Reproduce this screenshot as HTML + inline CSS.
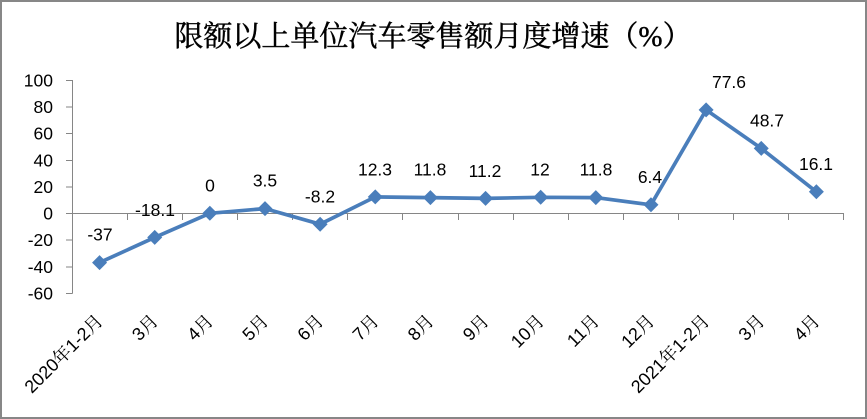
<!DOCTYPE html>
<html>
<head>
<meta charset="utf-8">
<style>
html,body{margin:0;padding:0;background:#fff;}
svg{display:block;}
</style>
</head>
<body>
<svg width="867" height="419" viewBox="0 0 867 419" xmlns="http://www.w3.org/2000/svg">
<rect x="0" y="0" width="867" height="419" fill="#fff"/>
<rect x="1" y="1" width="865" height="417" fill="none" stroke="#878787" stroke-width="2"/>
<text x="433" y="46" text-anchor="middle" font-family="'Liberation Serif','Noto Serif CJK SC',serif" font-size="29" fill="#000" stroke="#000" stroke-width="0.45">限额以上单位汽车零售额月度增速（%）</text>

<g stroke="#868686" stroke-width="1" fill="none" shape-rendering="crispEdges">
<line x1="72.5" y1="80" x2="72.5" y2="293.5"/>
<line x1="66" y1="80.5" x2="72.5" y2="80.5"/>
<line x1="66" y1="107" x2="72.5" y2="107"/>
<line x1="66" y1="133.5" x2="72.5" y2="133.5"/>
<line x1="66" y1="160.5" x2="72.5" y2="160.5"/>
<line x1="66" y1="187" x2="72.5" y2="187"/>
<line x1="66" y1="240" x2="72.5" y2="240"/>
<line x1="66" y1="267" x2="72.5" y2="267"/>
<line x1="66" y1="293.5" x2="72.5" y2="293.5"/>
<line x1="66" y1="213.5" x2="844" y2="213.5"/>
<line x1="127.5" y1="213.5" x2="127.5" y2="220"/>
<line x1="182.5" y1="213.5" x2="182.5" y2="220"/>
<line x1="237.5" y1="213.5" x2="237.5" y2="220"/>
<line x1="292.5" y1="213.5" x2="292.5" y2="220"/>
<line x1="347.5" y1="213.5" x2="347.5" y2="220"/>
<line x1="402.5" y1="213.5" x2="402.5" y2="220"/>
<line x1="458.5" y1="213.5" x2="458.5" y2="220"/>
<line x1="513.5" y1="213.5" x2="513.5" y2="220"/>
<line x1="568.5" y1="213.5" x2="568.5" y2="220"/>
<line x1="623.5" y1="213.5" x2="623.5" y2="220"/>
<line x1="678.5" y1="213.5" x2="678.5" y2="220"/>
<line x1="733.5" y1="213.5" x2="733.5" y2="220"/>
<line x1="788.5" y1="213.5" x2="788.5" y2="220"/>
<line x1="843.5" y1="213.5" x2="843.5" y2="220"/>
</g>

<g font-family="'Liberation Sans',sans-serif" font-size="17.5" fill="#000" text-anchor="end">
<text x="53" y="86.5">100</text>
<text x="53" y="113">80</text>
<text x="53" y="139.5">60</text>
<text x="53" y="166.5">40</text>
<text x="53" y="193">20</text>
<text x="53" y="219.5">0</text>
<text x="53" y="246">-20</text>
<text x="53" y="273">-40</text>
<text x="53" y="299.5">-60</text>
</g>

<polyline fill="none" stroke="#4a7ebb" stroke-width="3.7" stroke-linejoin="round"
points="99.57,262.6 154.71,237.4 209.85,213.3 264.99,208.6 320.13,224.2 375.27,196.9 430.41,197.6 485.55,198.4 540.69,197.3 595.83,197.6 650.97,204.8 706.11,109.9 761.25,148.4 816.39,191.8"/>

<g fill="#4a7ebb">
<path d="M99.57,255.1 L107.07,262.6 L99.57,270.1 L92.07,262.6Z"/>
<path d="M154.71,229.9 L162.21,237.4 L154.71,244.9 L147.21,237.4Z"/>
<path d="M209.85,205.8 L217.35,213.3 L209.85,220.8 L202.35,213.3Z"/>
<path d="M264.99,201.1 L272.49,208.6 L264.99,216.1 L257.49,208.6Z"/>
<path d="M320.13,216.7 L327.63,224.2 L320.13,231.7 L312.63,224.2Z"/>
<path d="M375.27,189.4 L382.77,196.9 L375.27,204.4 L367.77,196.9Z"/>
<path d="M430.41,190.1 L437.91,197.6 L430.41,205.1 L422.91,197.6Z"/>
<path d="M485.55,190.9 L493.05,198.4 L485.55,205.9 L478.05,198.4Z"/>
<path d="M540.69,189.8 L548.19,197.3 L540.69,204.8 L533.19,197.3Z"/>
<path d="M595.83,190.1 L603.33,197.6 L595.83,205.1 L588.33,197.6Z"/>
<path d="M650.97,197.3 L658.47,204.8 L650.97,212.3 L643.47,204.8Z"/>
<path d="M706.11,102.4 L713.61,109.9 L706.11,117.4 L698.61,109.9Z"/>
<path d="M761.25,140.9 L768.75,148.4 L761.25,155.9 L753.75,148.4Z"/>
<path d="M816.39,184.3 L823.89,191.8 L816.39,199.3 L808.89,191.8Z"/>
</g>

<g font-family="'Liberation Sans',sans-serif" font-size="17.5" fill="#000" text-anchor="middle">
<text x="100" y="240.6">-37</text>
<text x="155" y="215.9">-18.1</text>
<text x="210" y="191.3">0</text>
<text x="265" y="186.6">3.5</text>
<text x="320" y="202.7">-8.2</text>
<text x="375" y="175.4">12.3</text>
<text x="430" y="175.6">11.8</text>
<text x="485" y="176.9">11.2</text>
<text x="540" y="175.3">12</text>
<text x="596" y="175.6">11.8</text>
<text x="650" y="182.8">6.4</text>
<text x="729" y="88">77.6</text>
<text x="767" y="126.4">48.7</text>
<text x="816" y="169.8">16.1</text>
</g>

<g font-family="'Liberation Sans','Noto Serif CJK SC',sans-serif" font-size="18" fill="#000" text-anchor="end">
<text transform="translate(104,322) rotate(-45)">2020年1-2月</text>
<text transform="translate(159.2,322) rotate(-45)">3月</text>
<text transform="translate(214.3,322) rotate(-45)">4月</text>
<text transform="translate(269.5,322) rotate(-45)">5月</text>
<text transform="translate(324.6,322) rotate(-45)">6月</text>
<text transform="translate(379.8,322) rotate(-45)">7月</text>
<text transform="translate(434.9,322) rotate(-45)">8月</text>
<text transform="translate(490,322) rotate(-45)">9月</text>
<text transform="translate(545.2,322) rotate(-45)">10月</text>
<text transform="translate(600.3,322) rotate(-45)">11月</text>
<text transform="translate(655.5,322) rotate(-45)">12月</text>
<text transform="translate(710.6,322) rotate(-45)">2021年1-2月</text>
<text transform="translate(765.7,322) rotate(-45)">3月</text>
<text transform="translate(820.9,322) rotate(-45)">4月</text>
</g>
</svg>
</body>
</html>
